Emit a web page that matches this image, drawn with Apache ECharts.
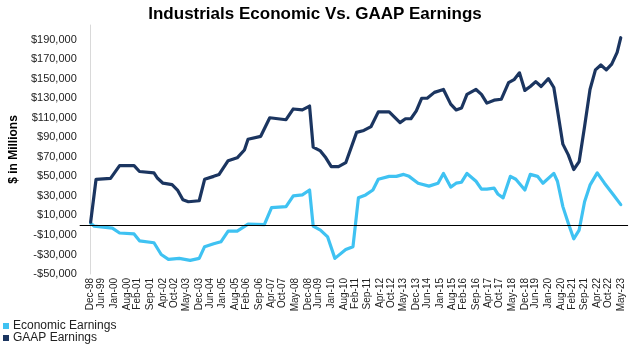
<!DOCTYPE html>
<html>
<head>
<meta charset="utf-8">
<script src="https://cdn.jsdelivr.net/npm/echarts@6/dist/echarts.min.js"></script>
<style>
html,body{margin:0;padding:0;background:#fff;}
#c{width:630px;height:345px;}
</style>
</head>
<body>
<div id="c"></div>
<script>
// Tick labels on the x axis
var xTickLabels = ['Dec-98','Jun-99','Jan-00','Aug-00','Feb-01','Sep-01','Apr-02','Oct-02','May-03','Dec-03',
  'Jun-04','Jan-05','Aug-05','Feb-06','Sep-06','Apr-07','Oct-07','May-08','Dec-08','Jun-09',
  'Jan-10','Aug-10','Feb-11','Sep-11','Apr-12','Oct-12','May-13','Dec-13','Jun-14','Jan-15',
  'Aug-15','Feb-16','Sep-16','Apr-17','Oct-17','May-18','Dec-18','Jun-19','Jan-20','Aug-20',
  'Feb-21','Sep-21','Apr-22','Oct-22','May-23'];

// Economic Earnings ($ in millions)
var econDates = ['1998-12','1999-02','1999-12','2000-04','2000-12','2001-03','2001-11','2002-03','2002-07','2003-01',
  '2003-07','2003-12','2004-03','2004-08','2004-12','2005-04','2005-09','2006-03','2006-12','2007-04',
  '2007-12','2008-04','2008-09','2009-01','2009-03','2009-07','2009-11','2010-03','2010-09','2011-01',
  '2011-04','2011-08','2011-12','2012-03','2012-09','2013-01','2013-05','2013-08','2014-01','2014-07',
  '2014-12','2015-03','2015-07','2015-10','2016-01','2016-04','2016-09','2016-12','2017-03','2017-07',
  '2017-09','2017-12','2018-04','2018-07','2018-12','2019-03','2019-07','2019-10','2020-04','2020-06',
  '2020-09','2020-12','2021-03','2021-06','2021-09','2021-12','2022-04','2022-08','2023-01','2023-05'];
var econValues = [2000,-1000,-3000,-8000,-9000,-16000,-18000,-30000,-35000,-34000,
  -36000,-34000,-22000,-19000,-17000,-6000,-6000,1000,500,18000,
  19000,30000,31000,36000,-1000,-5000,-12000,-34000,-25000,-22000,
  28000,31000,36000,47000,50000,50000,52000,50000,43000,40000,
  43000,53000,39000,43000,44000,53000,45000,37000,37000,38000,
  32000,28000,50000,47000,36000,52000,50000,43000,53000,45000,
  19000,2000,-14000,-5000,24000,41000,53500,43000,31000,21000];

// GAAP Earnings ($ in millions)
var gaapDates = ['1998-12','1999-03','1999-11','2000-04','2000-12','2001-03','2001-11','2002-01','2002-04','2002-09',
  '2002-12','2003-03','2003-06','2003-12','2004-03','2004-08','2004-11','2005-04','2005-09','2006-01',
  '2006-03','2006-10','2007-03','2007-12','2008-04','2008-09','2009-01','2009-03','2009-07','2009-10',
  '2010-01','2010-05','2010-09','2011-03','2011-07','2011-11','2012-03','2012-09','2013-03','2013-06',
  '2013-09','2013-12','2014-03','2014-06','2014-10','2015-03','2015-07','2015-10','2016-01','2016-04',
  '2016-09','2016-12','2017-03','2017-07','2017-11','2018-03','2018-06','2018-09','2018-12','2019-03',
  '2019-06','2019-09','2020-01','2020-04','2020-06','2020-09','2020-12','2021-03','2021-06','2021-09',
  '2021-12','2022-03','2022-06','2022-09','2022-12','2023-03','2023-05'];
var gaapValues = [3000,47000,48000,61000,61000,55000,53500,48000,43000,41500,
  36000,26000,24000,25000,47000,50000,52000,66000,69000,77000,
  88000,91000,110000,108000,119000,118000,122000,80000,76000,69000,
  60000,60000,64000,95000,97000,101000,116000,116000,105000,109000,
  109000,117000,130000,130000,136000,139000,124000,118000,120000,134000,
  139000,134000,125000,128000,129000,146000,149000,156000,138000,142000,
  147000,142000,150000,141000,118000,83000,72000,57000,65000,101000,
  139000,159000,164000,159000,165000,177000,192000];

var MON = {Jan:1,Feb:2,Mar:3,Apr:4,May:5,Jun:6,Jul:7,Aug:8,Sep:9,Oct:10,Nov:11,Dec:12};
function idxFromYM(s){ var p=s.split('-'); return (+p[0]-1998)*12 + (+p[1]) - 12; }
function idxFromLabel(s){ var p=s.split('-'); var yy=+p[1]; var y = yy<50 ? 2000+yy : 1900+yy; return (y-1998)*12 + MON[p[0]] - 12; }

var tickIdx = xTickLabels.map(idxFromLabel);
var labelByIdx = {};
xTickLabels.forEach(function(l,i){ labelByIdx[tickIdx[i]] = l; });

function pairs(d,v){ return d.map(function(s,i){ return [idxFromYM(s), v[i]]; }); }

var FONT = "'Liberation Sans', Arial, sans-serif";
var chart = echarts.init(document.getElementById('c'), null, {renderer:'canvas'});
chart.setOption({
  animation:false,
  backgroundColor:'#fff',
  textStyle:{fontFamily:FONT},
  title:{
    text:'Industrials Economic Vs. GAAP Earnings',
    left:'center', top:1,
    textStyle:{fontFamily:FONT, fontSize:17, fontWeight:'bold', color:'#000'}
  },
  legend:{
    orient:'vertical', left:3, bottom:1, padding:0,
    icon:'rect', itemWidth:6, itemHeight:6, itemGap:0,
    textStyle:{fontFamily:FONT, fontSize:12, lineHeight:12, color:'#222', padding:[0,0,0,-1]},
    data:['Economic Earnings','GAAP Earnings']
  },
  grid:{left:61, right:2, top:25, bottom:71, containLabel:false},
  xAxis:{
    type:'value', min:-6, max:297,
    axisLine:{show:true, lineStyle:{color:'#d9d9d9', width:1}},
    axisTick:{show:false},
    splitLine:{show:false},
    axisLabel:{
      customValues: tickIdx,
      rotate:90, margin:4, fontSize:10, color:'#222', fontFamily:FONT,
      formatter:function(v){ return labelByIdx[Math.round(v)] || ''; }
    }
  },
  yAxis:{
    type:'value', min:-50000, max:205000, interval:20000,
    name:'$ in Millions', nameLocation:'middle', nameGap:46, nameRotate:90,
    nameTextStyle:{fontFamily:FONT, fontSize:12, fontWeight:'bold', color:'#000'},
    axisLine:{show:true, lineStyle:{color:'#d9d9d9', width:1}},
    axisTick:{show:false},
    splitLine:{show:false},
    axisLabel:{
      showMaxLabel:false, margin:3, fontSize:11, color:'#222', fontFamily:FONT,
      formatter:function(v){
        var s = '$' + Math.abs(v).toLocaleString('en-US');
        return v<0 ? '-'+s : s;
      }
    }
  },
  series:[
    {
      name:'Economic Earnings', type:'line', data:pairs(econDates, econValues),
      showSymbol:false, symbol:'none', z:3,
      color:'#3FC2F2',
      lineStyle:{color:'#3FC2F2', width:3.2, cap:'round', join:'round'},
      markLine:{
        silent:true, symbol:['none','none'], label:{show:false},
        lineStyle:{color:'#000', width:1, type:'solid'},
        data:[{yAxis:0}]
      }
    },
    {
      name:'GAAP Earnings', type:'line', data:pairs(gaapDates, gaapValues),
      showSymbol:false, symbol:'none', z:4,
      color:'#1B3560',
      lineStyle:{color:'#1B3560', width:3.2, cap:'round', join:'round'}
    }
  ]
});
</script>
</body>
</html>
